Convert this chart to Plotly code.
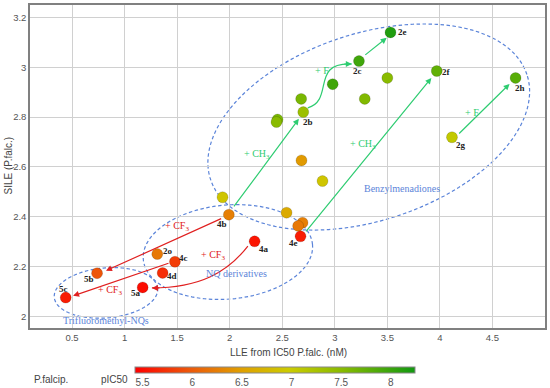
import numpy as np
import plotly.graph_objects as go

# ---------------- data ----------------
lle = [3.53, 3.23, 3.97, 4.72, 2.98, 3.50, 2.68, 3.285, 2.70, 2.455, 2.445, 4.115,
       2.683, 2.883, 2.541, 2.693, 2.651, 2.674, 1.932, 1.992, 2.237, 1.311, 1.479,
       1.362, 0.738, 1.172, 0.44]
sile = [3.14, 3.025, 2.985, 2.957, 2.932, 2.957, 2.873, 2.873, 2.82, 2.79, 2.78, 2.719,
        2.626, 2.543, 2.416, 2.376, 2.363, 2.321, 2.478, 2.408, 2.301, 2.25, 2.219,
        2.174, 2.173, 2.116, 2.075]
pic50 = [8.15, 7.95, 7.75, 7.8, 7.95, 7.5, 7.6, 7.55, 7.35, 7.6, 7.5, 7.05,
         6.45, 6.9, 6.6, 6.25, 6.2, 5.6, 6.9, 6.25, 5.55, 6.2, 5.8,
         5.7, 5.95, 5.5, 5.6]
names = ["2e", "2c", "2f", "2h", "", "", "", "", "2b", "", "", "2g",
         "", "", "", "", "", "4e", "", "4b", "4a", "2o", "4c",
         "4d", "5b", "5a", "5c"]

x_ticks = [0.5, 1, 1.5, 2, 2.5, 3, 3.5, 4, 4.5]
x_ticktext = ["0.5", "1", "1.5", "2", "2.5", "3", "3.5", "4", "4.5"]
y_ticks = [2, 2.2, 2.4, 2.6, 2.8, 3, 3.2]
y_ticktext = ["2", "2.2", "2.4", "2.6", "2.8", "3", "3.2"]
cb_ticks = [5.5, 6, 6.5, 7, 7.5, 8]
cb_ticktext = ["5.5", "6", "6.5", "7", "7.5", "8"]

# ---------------- styles ----------------
SERIF = "Liberation Serif, DejaVu Serif, serif"
SANS = "Arial, Liberation Sans, sans-serif"
GREEN = "#2ecc71"
RED = "#e02020"
BLUE = "#5b84d9"

colorscale = [[0.0, "#ff0000"], [0.2, "#ec5a0a"], [0.38, "#e0a000"],
              [0.55, "#cccc00"], [0.74, "#88bb00"], [1.0, "#119911"]]

# label offsets in pixels (dx right, dy down)
label_off = {"2e": (12, 0), "2c": (-1, 10), "2f": (10, 1), "2h": (4, 10),
             "2b": (5, 10), "2g": (9, 8), "4e": (-7, 7), "4b": (-7, 9),
             "4a": (9, 8), "2o": (11, -3), "4c": (9, -4), "4d": (9, 3),
             "5b": (-8, 6), "5a": (-7, 6), "5c": (-2, -9)}

fig = go.Figure()

# ---------------- ellipses (group outlines) ----------------
def ellipse_path(c, a, b, n=120):
    t = np.linspace(0, 2 * np.pi, n)
    xs = c[0] + np.cos(t) * a[0] + np.sin(t) * b[0]
    ys = c[1] + np.cos(t) * a[1] + np.sin(t) * b[1]
    p = "M %.4f,%.4f " % (xs[0], ys[0])
    p += " ".join("L %.4f,%.4f" % (x, y) for x, y in zip(xs[1:], ys[1:]))
    return p + " Z"

ellipses = [
    ((3.323, 2.760), (1.505, 0.211), (-0.280, 0.356)),
    ((1.983, 2.258), (0.805, 0.030), (-0.039, 0.188)),
    ((0.823, 2.094), (0.492, 0.018), (-0.021, 0.100)),
]
for c, a, b in ellipses:
    fig.add_shape(type="path", path=ellipse_path(c, a, b), xref="x", yref="y",
                  line=dict(color=BLUE, width=1.2, dash="3.5px,2.5px"), layer="below")

# ---------------- curved arrows ----------------
curves = [
    ((2.743, 2.837), (3.0, 2.869), (2.762, 3.021), (3.162, 3.013), GREEN, -9),
    ((2.173, 2.282), (1.983, 2.178), (1.717, 2.114), (1.260, 2.114), RED, 9),
]
for p0, p1, p2, p3, col, _ in curves:
    fig.add_shape(type="path", xref="x", yref="y",
                  path="M %f,%f C %f,%f %f,%f %f,%f" % (*p0, *p1, *p2, *p3),
                  line=dict(color=col, width=1.2))

# ---------------- markers ----------------
fig.add_trace(go.Scatter(
    x=lle, y=sile, mode="markers",
    marker=dict(size=11, color=pic50, colorscale=colorscale, cmin=5.42, cmax=8.24,
                line=dict(width=0.6, color="rgba(0,0,0,0.25)"),
                showscale=True,
                colorbar=dict(orientation="h", thickness=6, len=280, lenmode="pixels",
                              x=0.475, xanchor="center", y=-0.121, yanchor="top",
                              xpad=0, ypad=0,
                              tickvals=cb_ticks, ticktext=cb_ticktext, ticks="",
                              outlinecolor="#888", outlinewidth=1,
                              tickfont=dict(family=SANS, size=10, color="#555"))),
    hoverinfo="skip", showlegend=False))

ann = []
# straight arrows (head, tail, colour)
straight = [
    ((2.658, 2.793), (2.030, 2.435), GREEN),
    ((3.494, 3.118), (3.276, 3.045), GREEN),
    ((3.919, 2.957), (2.715, 2.335), GREEN),
    ((4.663, 2.933), (4.169, 2.728), GREEN),
    ((0.823, 2.183), (1.933, 2.395), RED),
    ((0.510, 2.082), (1.432, 2.215), RED),
]
for head, tail, col in straight:
    ann.append(dict(x=head[0], y=head[1], ax=tail[0], ay=tail[1], xref="x", yref="y",
                    axref="x", ayref="y", text="", showarrow=True, arrowhead=2,
                    arrowsize=1, arrowwidth=1.2, arrowcolor=col, standoff=0))
# heads for curved arrows
for p0, p1, p2, p3, col, dx in curves:
    ann.append(dict(x=p3[0], y=p3[1], ax=dx, ay=0, xref="x", yref="y", text="",
                    showarrow=True, arrowhead=2, arrowsize=1, arrowwidth=1.2,
                    arrowcolor=col, standoff=0))

# point labels
for xv, yv, nm in zip(lle, sile, names):
    if nm:
        dx, dy = label_off[nm]
        ann.append(dict(x=xv, y=yv, text="<b>%s</b>" % nm, showarrow=False,
                        xshift=dx, yshift=-dy, font=dict(family=SERIF, size=9, color="#222")))

# modification labels
mods = [
    (2.259, 2.648, "+ CH<sub>3</sub>", GREEN), (2.875, 2.985, "+ F", GREEN),
    (3.266, 2.688, "+ CH<sub>3</sub>", GREEN), (4.302, 2.820, "+ F", GREEN),
    (1.498, 2.359, "+ CF<sub>3</sub>", RED), (0.861, 2.103, "+ CF<sub>3</sub>", RED),
    (1.840, 2.246, "+ CF<sub>3</sub>", RED),
]
for xv, yv, t, col in mods:
    ann.append(dict(x=xv, y=yv, text=t, showarrow=False,
                    font=dict(family=SERIF, size=10, color=col)))

groups = [(3.644, 2.515, "Benzylmenadiones"), (2.066, 2.173, "NQ derivatives"),
          (0.823, 1.985, "Trifluoromethyl-NQs")]
for xv, yv, t in groups:
    ann.append(dict(x=xv, y=yv, text=t, showarrow=False,
                    font=dict(family=SERIF, size=10, color=BLUE)))

# axis titles & colorbar captions
def paper_text(px, py, text, angle=0):
    return dict(x=(px - 30) / 515, y=(328 - py) / 323, xref="paper", yref="paper",
                xanchor="center", yanchor="middle", text=text, showarrow=False,
                textangle=angle, font=dict(family=SANS, size=10, color="#444"))

ann.append(paper_text(288, 352, "LLE from IC50 P.falc. (nM)"))
ann.append(paper_text(7.5, 166, "SILE (P.falc.)", -90))
ann.append(paper_text(51, 379, "P.falcip."))
ann.append(paper_text(114, 379, "pIC50"))
fig.update_layout(annotations=ann)

axis_common = dict(showgrid=True, gridcolor="#d0d0d0", gridwidth=1, zeroline=False,
                   showline=True, linecolor="#808080", linewidth=1.5, mirror=True,
                   ticks="", tickfont=dict(family=SANS, size=9.5, color="#555"))
fig.update_xaxes(range=[0.1, 5.0], tickvals=x_ticks, ticktext=x_ticktext, **axis_common)
fig.update_yaxes(range=[1.953, 3.25], tickvals=y_ticks, ticktext=y_ticktext, **axis_common)

fig.update_layout(width=550, height=388,
                  margin=dict(l=30, r=5, t=5, b=60, autoexpand=False),
                  plot_bgcolor="white", paper_bgcolor="white")

fig.write_html("out.html", config={"displayModeBar": False},
               post_script="document.body.style.margin='0';document.body.style.padding='0';")
